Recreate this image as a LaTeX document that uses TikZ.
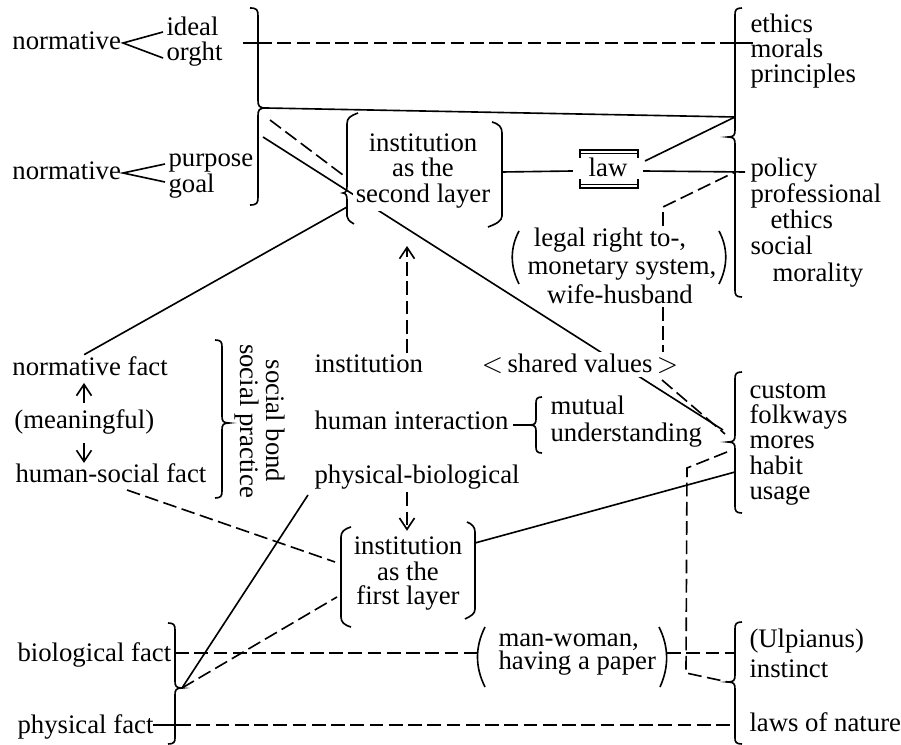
\documentclass[tikz,border=0pt]{standalone}
\usepackage{fontspec}
\setmainfont{Liberation Serif}
\usetikzlibrary{arrows.meta,backgrounds}
\begin{document}
\begin{tikzpicture}[x=0.4pt,y=-0.4pt,
  txt/.style={inner sep=1pt,outer sep=0pt,font=\fontsize{10.7}{12}\selectfont},
  wtxt/.style={txt,fill=white},
  lw/.style={line width=0.65pt},
  dsh/.style={line width=0.65pt,dash pattern=on 5.5pt off 2.2pt},
  brc/.style={line width=0.65pt},
  thinbox/.style={line width=0.5pt},
  arr/.style={-{Straight Barb[length=4.5pt,width=6pt]}}]
\useasboundingbox (0,0) rectangle (901,745);

% ---------- left column ----------
\node[txt,anchor=base west] (n1) at (10,50) {normative};
\node[txt,anchor=base west] (ideal) at (164,36) {ideal};
\node[txt,anchor=base west] (orght) at (164,61) {orght};
\node[txt,anchor=base west] (n2) at (10,180) {normative};
\node[txt,anchor=base west] (purpose) at (166,167) {purpose};
\node[txt,anchor=base west] (goal) at (166,193) {goal};

\node[txt,anchor=base west] (nf) at (10,376) {normative fact};
\node[txt,anchor=base west] (mf) at (12,429) {(meaningful)};
\node[txt,anchor=base west] (hs) at (13,483) {human-social fact};
\node[txt,rotate=-90,align=center,font=\fontsize{10.7}{10.2}\selectfont] (sb) at (260,421) {social bond\\social practice};

\node[txt,anchor=base west] (bio) at (15,662) {biological fact};
\node[txt,anchor=base west] (phys) at (15,733) {physical fact};

% ---------- middle ----------
\node[wtxt,anchor=base] (sl1) at (423,152) {institution};
\node[wtxt,anchor=base] (sl2) at (423,177) {as the};
\node[wtxt,anchor=base] (sl3) at (423,203) {second layer};

\node[txt,anchor=base,text height=7.2pt,text depth=2.4pt,inner xsep=6.3pt] (law) at (608,177) {law};

\node[wtxt,anchor=base] (lg1) at (610,247) {legal right to-,};
\node[wtxt,anchor=base] (lg2) at (622,275) {monetary system,};
\node[wtxt,anchor=base] (lg3) at (620,304) {wife-husband};

\node[txt,anchor=base west] (inst) at (312,373) {institution};
\node[wtxt,anchor=base] (shv) at (580,373) {$<$\,shared values\,$>$};
\node[txt,anchor=base west] (hi) at (312,430) {human interaction};
\node[txt,anchor=base west] (mut) at (548,415) {mutual};
\node[txt,anchor=base west] (und) at (548,442) {understanding};
\node[txt,anchor=base west] (pb) at (312,484) {physical-biological};

\node[txt,anchor=base] (fl1) at (408,555) {institution};
\node[txt,anchor=base] (fl2) at (408,580) {as the};
\node[txt,anchor=base] (fl3) at (408,605) {first layer};

\node[txt,anchor=base west] (mw1) at (496,647) {man-woman,};
\node[txt,anchor=base west] (mw2) at (496,670) {having a paper};

% ---------- right column ----------
\node[txt,anchor=base west] (eth) at (748,33) {ethics};
\node[txt,anchor=base west] (mor) at (748,58) {morals};
\node[txt,anchor=base west] (pri) at (748,83) {principles};
\node[txt,anchor=base west] (pol) at (748,177) {policy};
\node[txt,anchor=base west] (pro) at (748,203) {professional};
\node[txt,anchor=base west] (eth2) at (768,229) {ethics};
\node[txt,anchor=base west] (soc) at (748,255) {social};
\node[txt,anchor=base west] (mora) at (770,282) {morality};
\node[txt,anchor=base west] (cus) at (747,399) {custom};
\node[txt,anchor=base west] (fol) at (747,424) {folkways};
\node[txt,anchor=base west] (mos) at (747,449) {mores};
\node[txt,anchor=base west] (hab) at (747,475) {habit};
\node[txt,anchor=base west] (usa) at (747,500) {usage};
\node[txt,anchor=base west] (ulp) at (747,648) {(Ulpianus)};
\node[txt,anchor=base west] (ins) at (747,677) {instinct};
\node[txt,anchor=base west] (lon) at (747,731) {laws of nature};

% ---------- braces and brackets ----------
\draw[brc] (250,8) .. controls (257,8) and (258,10) .. (258,16) -- (258,100)
  .. controls (258,106) and (259,108) .. (266,108) .. controls (259,108) and (258,110) .. (258,116)
  -- (258,197) .. controls (258,203) and (257,205) .. (250,205);
\draw[brc] (742,8) .. controls (736,8) and (735,10) .. (735,15) -- (735,130)
  .. controls (735,135) and (734,137) .. (728,137) .. controls (734,137) and (735,139) .. (735,144)
  -- (735,290) .. controls (735,295) and (736,297) .. (742,297);
\draw[brc] (742,372) .. controls (736,372) and (735,374) .. (735,379) -- (735,435)
  .. controls (735,440) and (734,442) .. (728,442) .. controls (734,442) and (735,444) .. (735,449)
  -- (735,506) .. controls (735,511) and (736,513) .. (742,513);
\draw[brc] (742,622) .. controls (736,622) and (735,624) .. (735,629) -- (735,675)
  .. controls (735,680) and (734,682) .. (728,682) .. controls (734,682) and (735,684) .. (735,689)
  -- (735,738) .. controls (735,742) and (736,744) .. (742,744);
\draw[brc] (542,397) .. controls (537,397) and (536,399) .. (536,403) -- (536,419)
  .. controls (536,423) and (535,425) .. (530,425) .. controls (535,425) and (536,427) .. (536,431)
  -- (536,447) .. controls (536,451) and (537,453) .. (542,453);
\draw[brc] (215,340) .. controls (221,340) and (222,342) .. (222,347) -- (222,416)
  .. controls (222,421) and (223,423) .. (229,423) .. controls (223,423) and (222,425) .. (222,430)
  -- (222,491) .. controls (222,496) and (221,498) .. (215,498);
\draw[brc] (168,623) .. controls (174,623) and (175,625) .. (175,630) -- (175,681)
  .. controls (175,686) and (176,688) .. (182,688) .. controls (176,688) and (175,690) .. (175,695)
  -- (175,738) .. controls (175,742) and (174,744) .. (168,744);
\draw[brc] (358,113) .. controls (350,116) and (347,118) .. (347,124) -- (347,186)
  .. controls (347,190) and (346,193) .. (343,193) .. controls (346,193) and (347,196) .. (347,200)
  -- (347,216) .. controls (347,219) and (349,221) .. (354,224);
\draw[brc] (492,122) .. controls (499,124) and (502,127) .. (502,133) -- (502,216)
  .. controls (502,221) and (496,224) .. (488,227);
\draw[brc] (351,527) .. controls (344,529) and (341,532) .. (341,537) -- (341,617)
  .. controls (341,622) and (344,625) .. (351,627);
\draw[brc] (467,522) .. controls (472,524) and (475,527) .. (475,532) -- (475,609)
  .. controls (475,614) and (471,616) .. (465,619);
\draw[brc] (519,231) .. controls (510,248) and (510,266) .. (519,284);
\draw[brc] (719,231) .. controls (728,248) and (728,266) .. (719,284);
\draw[brc] (485,627) .. controls (475,647) and (475,667) .. (485,687);
\draw[brc] (659,627) .. controls (669,647) and (669,667) .. (660,687);
\draw[thinbox] (580,158) -- (580,150) -- (638,150) -- (638,158);
\draw[thinbox] (580,153.5) -- (638,153.5);
\draw[thinbox] (580,179) -- (580,188) -- (638,188) -- (638,179);
\draw[thinbox] (580,184.5) -- (638,184.5);

% ---------- named points ----------
\coordinate (v1) at (123,43);  \coordinate (v1a) at (163,32); \coordinate (v1b) at (163,58);
\coordinate (v2) at (123,173); \coordinate (v2a) at (165,164); \coordinate (v2b) at (165,182);
\coordinate (tA) at (243,43); \coordinate (tB) at (258,43); \coordinate (tC) at (735,43); \coordinate (tD) at (753,43);
\coordinate (nbc) at (266,108); \coordinate (ebc) at (735,117);
\coordinate (nbs) at (263,137); \coordinate (nbd) at (270,120);
\coordinate (sld) at (343,175); \coordinate (slb) at (347,207); \coordinate (slr) at (502,172);
\coordinate (lawe) at (645,161); \coordinate (polb) at (745,172);
\coordinate (xv) at (663,0); \coordinate (lgb) at (663,207); \coordinate (pbc) at (735,172);
\coordinate (ax) at (407,0); \coordinate (at1) at (407,246);
\coordinate (ua1) at (84,403); \coordinate (ua2) at (84,383);
\coordinate (da1) at (84,443); \coordinate (da2) at (84,463);
\coordinate (mbc) at (530,425);
\coordinate (cc1) at (723,430); \coordinate (svd) at (662,380); \coordinate (cc3) at (725,434);
\coordinate (cc2) at (727,452); \coordinate (k1) at (687,468); \coordinate (k2) at (686,673); \coordinate (ubc) at (728,682);
\coordinate (flr) at (475,543); \coordinate (hbb) at (735,472);
\coordinate (hsd) at (127,490); \coordinate (fll1) at (335,562); \coordinate (fll2) at (337,597);
\coordinate (bbc) at (182,688); \coordinate (pbs) at (308,495);
\coordinate (bl1) at (175,653); \coordinate (mwl) at (478,653); \coordinate (mwr) at (667,653); \coordinate (ubl) at (735,653);
\coordinate (pl0) at (153,725); \coordinate (pl1) at (177,725); \coordinate (pl2) at (735,725);
\coordinate (hil) at (513,425);

% ---------- connectors ----------
\begin{pgfonlayer}{background}
\draw[lw] (v1a) -- (v1) -- (v1b);
\draw[lw] (v2a) -- (v2) -- (v2b);
\draw[lw] (tA) -- (tB);
\draw[dsh] (tB) -- (tC);
\draw[lw] (tC) -- (tD);
\draw[lw] (nbc) -- (ebc);
\draw[lw] (nbs) -- (cc1);
\draw[dsh] (nbd) -- (sld);
\draw[lw] ([xshift=-2.4pt]nf.north) -- (slb);
\draw[lw] (slr) -- (law.west);
\draw[lw] (law.east) -- (polb);
\draw[lw] (lawe) -- (ebc);
\draw[dsh] (lg1.north -| xv) -- (lgb) -- (pbc);
\draw[dsh] (lg3.south -| xv) -- (shv.north -| xv);
\draw[dsh,arr] (inst.north -| ax) -- (at1);
\draw[dsh,arr] (pb.south -| ax) -- ([yshift=1.6pt]fl1.north -| ax);
\draw[lw,arr] (ua1) -- (ua2);
\draw[lw,arr] (da1) -- (da2);
\draw[lw] (hil) -- (mbc);
\draw[dsh] (svd) -- (cc3);
\draw[dsh] (cc2) -- (k1) -- (k2) -- (ubc);
\draw[lw] (flr) -- (hbb);
\draw[dsh] (hsd) -- (fll1);
\draw[dsh] (bbc) -- (fll2);
\draw[lw] (bbc) -- (pbs);
\draw[dsh] (bl1) -- (mwl);
\draw[dsh] (mwr) -- (ubl);
\draw[lw] (pl0) -- (pl1);
\draw[dsh] (pl1) -- (pl2);
\end{pgfonlayer}
\end{tikzpicture}
\end{document}
